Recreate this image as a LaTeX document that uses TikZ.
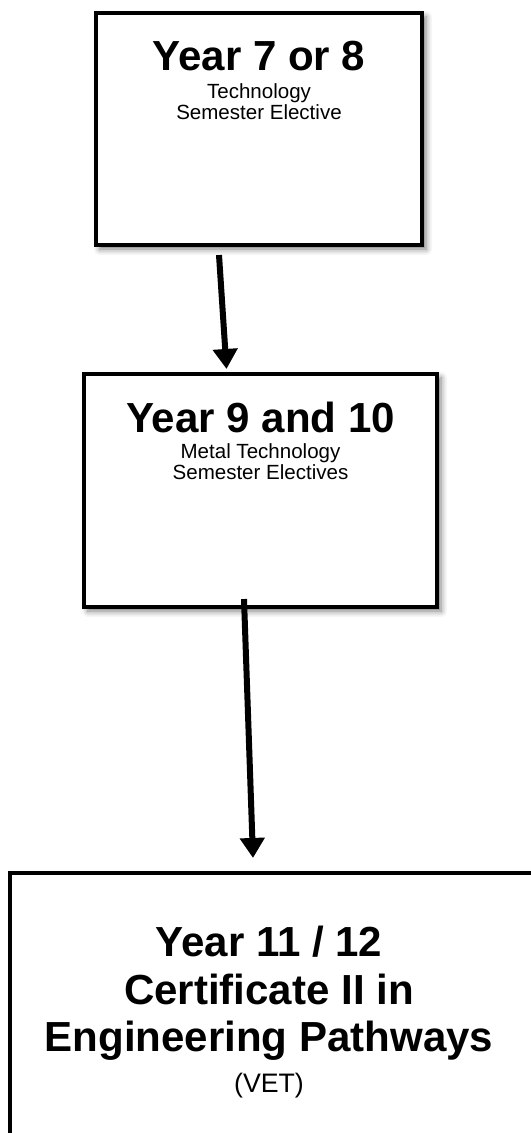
\documentclass[tikz,border=0pt]{standalone}
\usepackage{fontspec}
\setmainfont{Liberation Sans}
\usetikzlibrary{arrows.meta, positioning, calc, shadows.blur}

\begin{document}
\begin{tikzpicture}[
        x=0.025cm, y=-0.025cm,
        stage/.style={rectangle, draw=black, line width=0.1cm, fill=white, inner sep=0pt},
        soft/.style={blur shadow={shadow xshift=0.1cm, shadow yshift=-0.1cm, shadow blur radius=0.15cm, shadow opacity=55}},
        heading/.style={font=\fontsize{29.9}{34}\selectfont\bfseries, anchor=base, inner sep=0pt},
        note/.style={font=\fontsize{14.6}{17}\selectfont, anchor=base, inner sep=0pt},
        flow/.style={-{Triangle[width=0.6cm, length=0.5cm]}, line width=0.15cm, draw=black}
    ]
        \useasboundingbox (0,0) rectangle (531,1133);
        \clip (0,0) rectangle (531,1133);
        \node[stage, soft, minimum width=8.15cm, minimum height=5.8cm] (b1) at (259,129) {};
        \node[stage, soft, minimum width=8.825cm, minimum height=5.825cm] (b2) at (260.5,490.5) {};
        \node[stage, soft, minimum width=13.375cm, minimum height=7.175cm] (b3) at (277.5,1016.5) {};
        \node[heading] (t1) at (259,70) {Year 7 or 8};
        \node[note] (t1a) at (259,98) {Technology};
        \node[note] (t1b) at (259,119) {Semester Elective};
        \node[heading] (t2) at (260.5,432) {Year 9 and 10};
        \node[note] (t2a) at (260.5,458) {Metal Technology};
        \node[note] (t2b) at (260.5,479) {Semester Electives};
        \node[heading] (t3) at (269,956.7) {Year 11 / 12};
        \node[heading] (t3a) at (269,1004) {Certificate II in};
        \node[heading] (t3b) at (269,1051.7) {Engineering Pathways};
        \node[font=\fontsize{19}{22}\selectfont, anchor=base, inner sep=0pt] (t3c) at (269,1092) {(VET)};
        \draw[flow] ($(b1.south)+(-40,8)$) -- ($(b2.north)+(-34,-3)$);
        \draw[flow] ($(b2.south)+(-16.5,-10)$) -- ($(b3.north)+(-24.5,-13)$);
    \end{tikzpicture}
\end{document}
